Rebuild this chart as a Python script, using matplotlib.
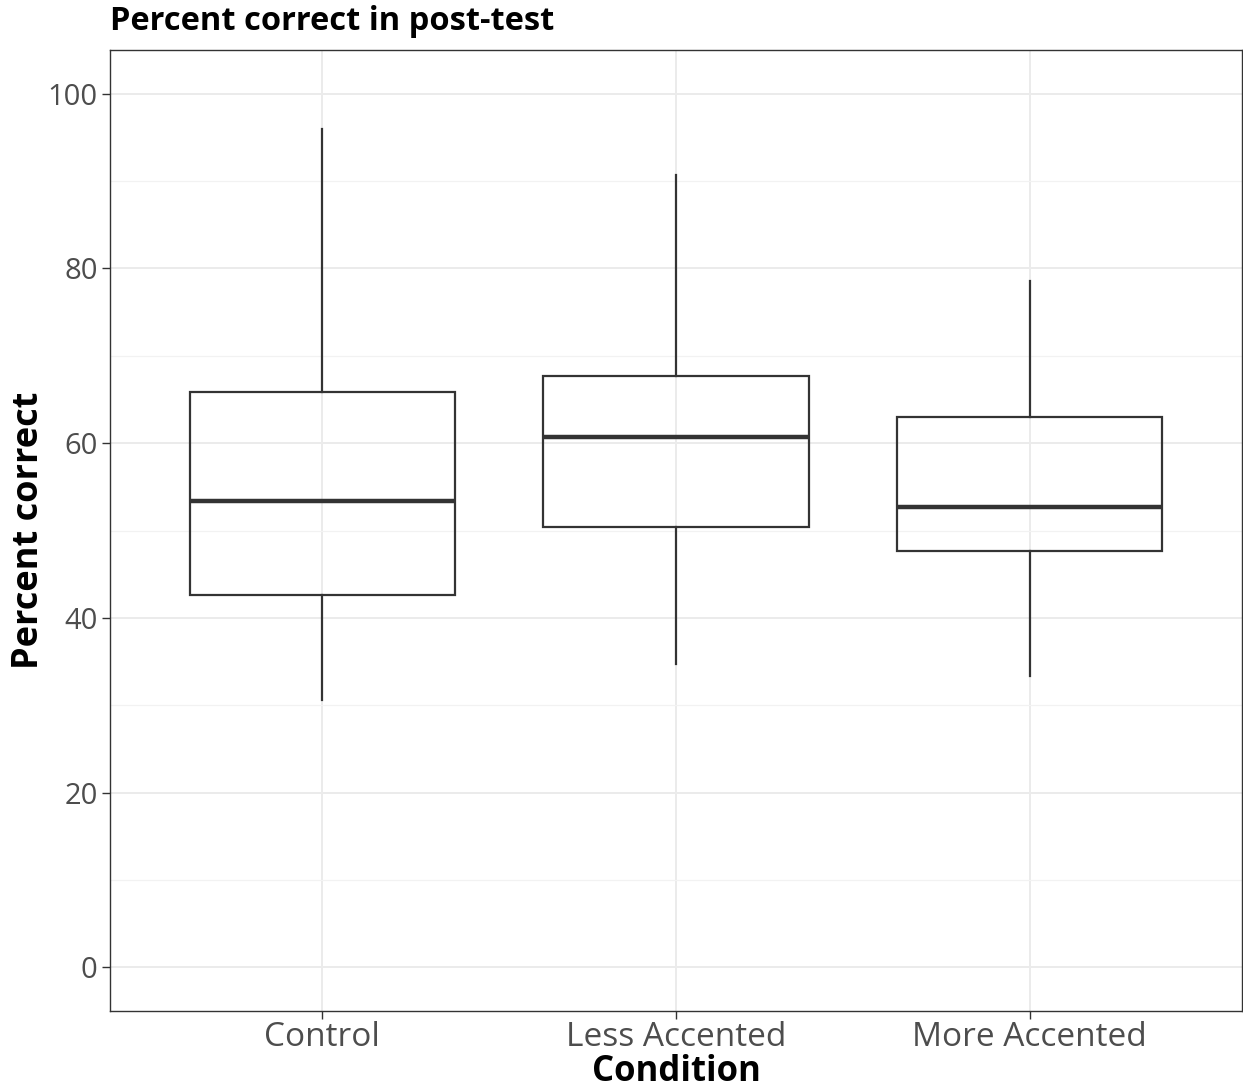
import matplotlib
matplotlib.use("Agg")
import matplotlib.pyplot as plt

conditions = ["Control", "Less Accented", "More Accented"]
whisker_low = [30.6, 34.7, 33.4]
q1 = [42.6, 50.4, 47.7]
median = [53.4, 60.7, 52.7]
q3 = [65.9, 67.7, 63.0]
whisker_high = [96.0, 90.7, 78.6]

major_ticks = [0, 20, 40, 60, 80, 100]
minor_ticks = [10, 30, 50, 70, 90]

fig = plt.figure(figsize=(12.43, 10.88), dpi=100)
ax = fig.add_axes([110 / 1243, 77 / 1088, 1132 / 1243, 961 / 1088])

stats = []
for i, name in enumerate(conditions):
    stats.append({
        "label": name,
        "whislo": whisker_low[i],
        "q1": q1[i],
        "med": median[i],
        "q3": q3[i],
        "whishi": whisker_high[i],
        "fliers": [],
    })

pos = list(range(1, len(conditions) + 1))
ax.bxp(stats, positions=pos, widths=0.75, showcaps=False, patch_artist=True,
       boxprops=dict(facecolor="none", edgecolor="#333333", linewidth=1.6),
       whiskerprops=dict(color="#333333", linewidth=1.6),
       medianprops=dict(color="#333333", linewidth=3.2),
       zorder=3)

ax.set_xlim(0.4, 3.6)
ax.set_ylim(-5, 105)
ax.set_yticks(major_ticks)
ax.set_yticks(minor_ticks, minor=True)
ax.set_xticks(pos)
ax.set_xticklabels(conditions)

ax.grid(True, which="major", color="#EBEBEB", linewidth=1.4, zorder=0)
ax.grid(True, which="minor", axis="y", color="#F2F2F2", linewidth=0.9, zorder=0)
ax.set_axisbelow(True)

for s in ax.spines.values():
    s.set_color("#333333")
    s.set_linewidth(1.0)

ax.tick_params(axis="both", which="major", color="#333333", length=6, width=1.0,
               labelcolor="#4D4D4D")
ax.tick_params(axis="y", which="minor", length=0)
ax.tick_params(axis="x", labelsize=24, pad=1)
ax.tick_params(axis="y", labelsize=21, pad=3)
for lab in ax.get_xticklabels() + ax.get_yticklabels():
    lab.set_family("Open Sans")

bold = dict(family="Open Sans", fontweight="bold")
ax.set_xlabel("Condition", fontsize=25, labelpad=0, **bold)
ax.set_ylabel("Percent correct", fontsize=26, labelpad=0, **bold)
fig.text(110 / 1243, 1 - 22 / 1088, "Percent correct in post-test", fontsize=23.5,
         va="center", ha="left", **bold)

fig.savefig("out.png", dpi=100)
